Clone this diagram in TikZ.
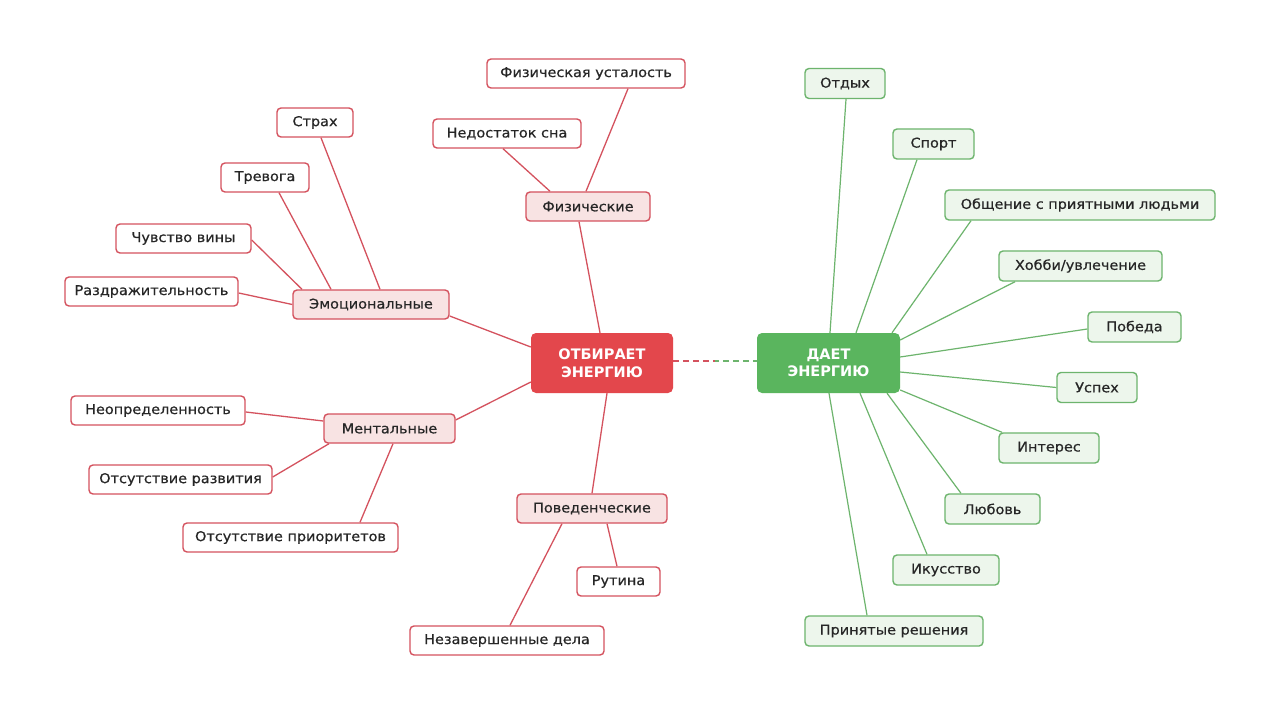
\documentclass[tikz,border=0pt]{standalone}
\usepackage{fontspec}
\setmainfont{DejaVu Sans}
\newfontfamily\lab[FakeStretch=1.07,FakeBold=0.6]{DejaVu Sans}
\usetikzlibrary{calc}
\pgfdeclarelayer{bg}
\pgfdeclarelayer{edges}
\pgfsetlayers{bg,edges,main}
\definecolor{rline}{HTML}{D4525E}
\definecolor{rhub}{HTML}{E3474C}
\definecolor{pinkfill}{HTML}{F8E3E3}
\definecolor{gline}{HTML}{6DB46D}
\definecolor{ghub}{HTML}{5AB55E}
\definecolor{gfill}{HTML}{EDF6EC}
\definecolor{txt}{HTML}{262626}
\begin{document}
\begin{tikzpicture}[x=1pt,y=-1pt,
  box/.style={rounded corners=4pt, line width=1.4pt, inner sep=0pt, minimum height=29pt, text=txt, font=\lab\fontsize{13.5}{16}\selectfont},
  rleaf/.style={box, draw=rline, fill=white},
  rcat/.style={box, draw=rline, fill=pinkfill},
  gleaf/.style={box, draw=gline, fill=gfill, minimum height=30pt},
  hub/.style={rounded corners=5pt, inner sep=0pt, minimum height=60pt, minimum width=142pt, text=white, align=center, font=\bfseries\fontsize{14.5}{17.5}\selectfont},
  rl/.style={draw=rline, line width=1.3pt},
  gl/.style={draw=gline, line width=1.2pt}]
\begin{pgfonlayer}{bg}
\fill[white] (0,0) rectangle (1280,714);
\end{pgfonlayer}
\useasboundingbox (0,0) rectangle (1280,714);

% hubs
\node[hub, fill=rhub] (R) at (602,363) {ОТБИРАЕТ\\ЭНЕРГИЮ};
\node[hub, fill=ghub, minimum width=143pt] (G) at (828.5,363) {ДАЕТ\\ЭНЕРГИЮ};

% categories
\node[rcat, minimum width=124pt] (fiz) at (588,206.5) {Физические};
\node[rcat, minimum width=156pt] (emo) at (371,304.5) {Эмоциональные};
\node[rcat, minimum width=131pt] (men) at (389.5,428.5) {Ментальные};
\node[rcat, minimum width=150pt] (pov) at (592,508.5) {Поведенческие};

% red leaves
\node[rleaf, minimum width=198pt] (fu) at (586,73.5) {Физическая усталость};
\node[rleaf, minimum width=148pt] (ns) at (507,133.5) {Недостаток сна};
\node[rleaf, minimum width=76pt] (strah) at (315,122.5) {Страх};
\node[rleaf, minimum width=88pt] (trev) at (265,177.5) {Тревога};
\node[rleaf, minimum width=135pt] (vina) at (183.5,238.5) {Чувство вины};
\node[rleaf, minimum width=173pt] (razd) at (151.5,291.5) {Раздражительность};
\node[rleaf, minimum width=174pt] (neop) at (158,410.5) {Неопределенность};
\node[rleaf, minimum width=183pt] (razv) at (180.5,479.5) {Отсутствие развития};
\node[rleaf, minimum width=215pt] (prior) at (290.5,537.5) {Отсутствие приоритетов};
\node[rleaf, minimum width=83pt] (rut) at (618.5,581.5) {Рутина};
\node[rleaf, minimum width=194pt] (nez) at (507,640.5) {Незавершенные дела};

% green leaves
\node[gleaf, minimum width=80pt] (otd) at (845,83.5) {Отдых};
\node[gleaf, minimum width=81pt] (sport) at (933.5,144) {Спорт};
\node[gleaf, minimum width=270pt] (obsh) at (1080,205) {Общение с приятными людьми};
\node[gleaf, minimum width=163pt] (hobbi) at (1080.5,266) {Хобби/увлечение};
\node[gleaf, minimum width=93pt] (pob) at (1134.5,327) {Победа};
\node[gleaf, minimum width=80pt] (usp) at (1097,387.5) {Успех};
\node[gleaf, minimum width=100pt] (inter) at (1049,448) {Интерес};
\node[gleaf, minimum width=95pt] (lub) at (992.5,509) {Любовь};
\node[gleaf, minimum width=106pt] (isk) at (946,570) {Икусство};
\node[gleaf, minimum width=178pt] (prin) at (894,631) {Принятые решения};

\begin{pgfonlayer}{edges}
% physical
\draw[rl] ([xshift=42pt]fu.south) -- ([xshift=-2pt]fiz.north);
\draw[rl] ([xshift=-4pt]ns.south) -- ([xshift=-38pt]fiz.north);
\draw[rl] ([xshift=-9pt]fiz.south) -- ([xshift=-2pt]R.north);
% emotional
\draw[rl] ([xshift=6pt]strah.south) -- ([xshift=9pt]emo.north);
\draw[rl] ([xshift=14pt]trev.south) -- ([xshift=-40pt]emo.north);
\draw[rl] ([yshift=-1.5pt]vina.east) -- ([xshift=-69pt]emo.north);
\draw[rl] ([yshift=-1.5pt]razd.east) -- (emo.west);
\draw[rl] ([yshift=-11.5pt]emo.east) -- ([yshift=16pt]R.west);
% mental
\draw[rl] ([yshift=-1.5pt]neop.east) -- ([yshift=7.5pt]men.west);
\draw[rl] ([yshift=2.5pt]razv.east) -- ([xshift=-60.5pt]men.south);
\draw[rl] ([xshift=69.5pt]prior.north) -- ([xshift=3.5pt]men.south);
\draw[rl] ([yshift=8.5pt]men.east) -- ([yshift=-19pt]R.west);
% behavioural
\draw[rl] ([xshift=5pt]R.south) -- (pov.north);
\draw[rl] ([xshift=15pt]pov.south) -- ([xshift=-1.5pt]rut.north);
\draw[rl] ([xshift=-30pt]pov.south) -- ([xshift=3pt]nez.north);
% green
\draw[gl] ([xshift=1.5pt]G.north) -- ([xshift=1pt]otd.south);
\draw[gl] ([xshift=27.5pt]G.north) -- ([xshift=-16.5pt]sport.south);
\draw[gl] ([xshift=63.5pt]G.north) -- ([xshift=-109pt]obsh.south);
\draw[gl] ([yshift=23pt]G.east) -- ([xshift=-65.5pt]hobbi.south);
\draw[gl] ([yshift=6pt]G.east) -- ([yshift=-2pt]pob.west);
\draw[gl] ([yshift=-9pt]G.east) -- (usp.west);
\draw[gl] ([yshift=-27pt]G.east) -- ([xshift=-47pt]inter.north);
\draw[gl] ([xshift=58.5pt]G.south) -- ([xshift=-31.5pt]lub.north);
\draw[gl] ([xshift=31.5pt]G.south) -- ([xshift=-19pt]isk.north);
\draw[gl] ([xshift=0.5pt]G.south) -- ([xshift=-27pt]prin.north);
% dashed link
\coordinate (mid) at ($([yshift=2pt]R.east)!0.5!([yshift=2pt]G.west)$);
\draw[draw=rline, line width=1.3pt, dash pattern=on 6pt off 4pt] ([yshift=2pt]R.east) -- (mid);
\draw[draw=gline, line width=1.3pt, dash pattern=on 6pt off 4pt, dash phase=2pt] (mid) -- ([yshift=2pt]G.west);
\end{pgfonlayer}
\end{tikzpicture}
\end{document}
